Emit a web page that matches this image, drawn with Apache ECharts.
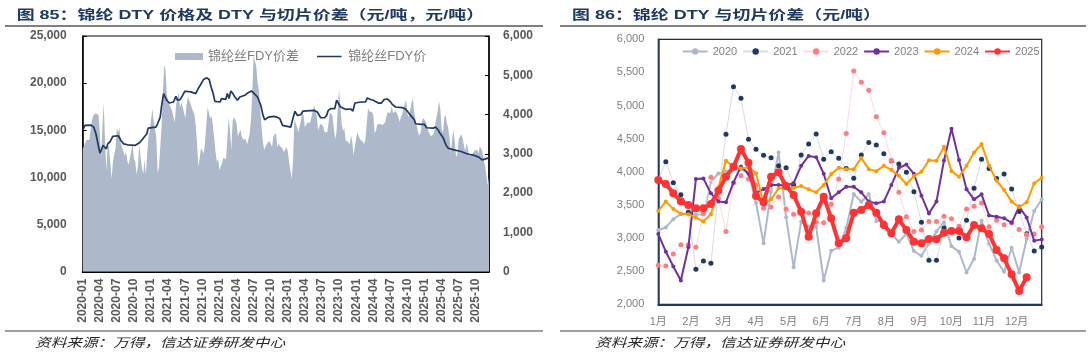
<!DOCTYPE html>
<html><head><meta charset="utf-8">
<script src="https://cdn.jsdelivr.net/npm/echarts@6/dist/echarts.min.js"></script>
<style>html,body{margin:0;padding:0;background:#fff;}#c{width:1088px;height:357px;}</style>
</head><body><div id="c"></div>
<script>
// ---------- DATA ----------
const years = ['2020', '2021', '2022', '2023', '2024', '2025'];
const monthLabels86 = ['1月','2月','3月','4月','5月','6月','7月','8月','9月','10月','11月','12月'];
// weekly DTY - chip spread (元/吨)
const spread2020 = [3121,3160,3285,3360,3370,3355,3355,3850,3975,4000,4035,4040,3980,3532,2920,3700,4290,3315,2560,3245,3170,3170,2360,2810,2855,3150,3665,3547,3665,3257,3250,3060,2945,3060,2805,2732,2915,3100,3240,2875,2795,2480,2684,3263,2915,2660,2490,2853,2480,2986,3408,3582];
const spread2021 = [3880,4150,3836,3655,3388,2528,2654,2618,3700,4565,5285,5110,4490,4340,4248,4213,4092,4062,3800,4253,4419,4570,4188,4304,4203,4050,3901,4253,4444,4404,4274,4163,4118,3992,3700,3237,2665,2665,3150,3100,3000,3270,3750,4188,4050,3900,3968,3740,3400,3066,2805,2865];
const spread2022 = [2590,2580,2760,2900,2900,2860,3370,3916,3600,3100,3830,3940,3890,3800,3450,3470,3620,3440,3360,3390,3380,3240,3230,3510,3890,4580,5520,5350,5230,4830,4590,4170,3690,3320,3100,3120,3250,3250,3330,3290,3180,3440,3480,3530,3170,3270,3200,3230,3130,3050,3060,3170];
const spread2023 = [3060,2795,2570,2360,2860,3890,3900,3675,3550,3540,3840,4080,3970,3680,3740,3800,3800,3790,3830,4090,4240,4220,3970,3600,3690,3775,3775,3690,3550,3525,3550,3800,4060,4110,3970,3640,3370,3550,4170,4650,4180,3735,3585,3660,3340,3320,3300,3230,3475,3310,2960,2980];
const spread2024 = [3410,3550,3440,3365,3360,3310,3250,3360,3765,4165,4080,4050,4070,3980,3525,3585,3750,3750,3760,3785,3735,3690,3800,3965,4060,4040,4040,4210,4040,4010,4090,4030,3940,3815,3935,4000,4175,4165,4380,4010,3925,4090,4290,4420,4090,3865,3725,3550,3465,3540,3825,3910];
const spread2025 = [3876,3816,3675,3554,3499,3448,3448,3514,3715,3926,4077,4344,4138,3635,3539,3926,3992,3786,3650,3398,3021,3373,3625,3297,2920,2996,3383,3423,3499,3383,3197,3071,3282,3121,2945,2920,2986,2981,3081,3106,3106,3011,3197,3147,3061,2820,2694,2452,2201,2407];
// FDY price (元/吨)
const fdyDates = ['2020-01-01','2020-01-13','2020-02-15','2020-02-28','2020-03-11','2020-03-24','2020-04-02','2020-04-11','2020-04-18','2020-04-28','2020-05-06','2020-05-13','2020-05-27','2020-06-09','2020-07-09','2020-07-23','2020-08-07','2020-08-28','2020-10-06','2020-10-15','2020-10-29','2020-11-11','2020-11-25','2020-12-09','2020-12-16','2021-01-27','2021-02-05','2021-02-18','2021-02-24','2021-03-07','2021-03-14','2021-03-25','2021-04-07','2021-04-29','2021-05-12','2021-05-21','2021-06-04','2021-06-22','2021-06-29','2021-07-31','2021-08-27','2021-09-09','2021-09-20','2021-10-07','2021-10-25','2021-11-07','2021-11-16','2021-11-28','2021-12-07','2022-01-05','2022-01-12','2022-02-04','2022-02-12','2022-02-20','2022-03-01','2022-03-12','2022-03-23','2022-04-06','2022-04-18','2022-05-15','2022-06-02','2022-06-20','2022-07-04','2022-07-22','2022-08-09','2022-08-21','2022-08-30','2022-09-19','2022-10-19','2022-11-03','2022-11-19','2022-12-03','2022-12-12','2023-01-17','2023-01-31','2023-02-08','2023-02-20','2023-03-09','2023-03-22','2023-05-19','2023-06-06','2023-06-24','2023-07-15','2023-07-26','2023-08-04','2023-08-17','2023-09-08','2023-09-18','2023-09-27','2023-10-09','2023-11-05','2023-12-02','2023-12-14','2023-12-25','2024-01-29','2024-02-20','2024-02-28','2024-03-14','2024-04-01','2024-04-27','2024-05-14','2024-05-28','2024-06-15','2024-06-29','2024-07-11','2024-07-29','2024-09-04','2024-09-21','2024-10-04','2024-10-18','2024-11-05','2024-11-14','2024-12-14','2025-01-01','2025-01-12','2025-02-16','2025-02-27','2025-03-12','2025-03-22','2025-04-09','2025-04-25','2025-05-06','2025-06-05','2025-06-14','2025-07-10','2025-08-07','2025-08-30','2025-09-20','2025-10-17','2025-11-04','2025-11-22','2025-12-09'];
const fdyPrice = [15000,15520,15550,15340,14630,13390,12570,12780,13390,13560,13030,13560,13810,14350,14420,13920,13560,13460,13390,13210,13640,13920,14280,14630,15230,15340,15690,16400,17470,18890,18710,18180,17890,18000,18600,18180,18250,18890,19140,19070,18890,19420,19780,20380,20560,20380,19670,18890,18070,18000,18360,18280,18890,18360,19170,18890,18530,18180,18530,18710,18990,19170,18890,18530,17650,16580,16120,16400,16480,16400,16230,15520,15340,15340,16400,17010,16580,16650,17040,17110,16940,16330,16330,16580,17110,17290,17290,18180,18110,17470,17220,17260,17040,17890,18000,18000,18430,18290,18180,17890,17890,18250,18320,18070,17750,17470,17400,17260,16940,16580,16190,15690,15620,15620,15270,15230,15340,15060,14700,14200,13390,13100,12920,12850,12780,12570,12430,12360,12150,11860,11970,12070];

// ---------- helpers ----------
const spreads = [spread2020, spread2021, spread2022, spread2023, spread2024, spread2025];
const FONT = '"Liberation Sans", "Noto Sans CJK SC", sans-serif';
function monthIndex(d) {
  const p = d.split('-').map(Number);
  const dim = new Date(p[0], p[1], 0).getDate();
  return (p[0] - 2020) * 12 + (p[1] - 1) + (p[2] - 1) / dim;
}
function comma(v) { return String(v).replace(/\B(?=(\d{3})+(?!\d))/g, ','); }
const WEEKS = 52;
const areaData = [];
spreads.forEach((arr, yi) => arr.forEach((v, w) => areaData.push([yi * 12 + w * 12 / WEEKS, v])));
const priceData = fdyDates.map((d, i) => [monthIndex(d), fdyPrice[i]]);
const xMax85 = areaData[areaData.length - 1][0];

const styles86 = [
  { line: '#adb9ca', lw: 2, dot: '#adb9ca', size: 4 },
  { line: '#d6dce5', lw: 1, dot: '#203864', size: 5 },
  { line: '#ffd9d9', lw: 1, dot: '#ff7c80', size: 5 },
  { line: '#7030a0', lw: 2, dot: '#7030a0', size: 4 },
  { line: '#ff9900', lw: 2, dot: '#ff9900', size: 4 },
  { line: '#ff3333', lw: 4, dot: '#ff3333', size: 8 }
];
const series86 = years.map((y, i) => ({
  name: y, type: 'line', xAxisIndex: 1, yAxisIndex: 2,
  data: spreads[i].map((v, w) => [w, v]),
  symbol: 'circle', symbolSize: styles86[i].size,
  lineStyle: { color: styles86[i].line, width: styles86[i].lw },
  itemStyle: { color: styles86[i].dot },
  z: 2 + i
}));

// thin-line legend icon (tiny corner specks keep the bar thin inside the icon box)
const LINE_ICON = 'path://M0,0L0.01,0L0,0.01Z M0,3.1H28V4.9H0Z M0,8L0.01,8L0,7.99Z';

const chart = echarts.init(document.getElementById('c'), null, { renderer: 'canvas' });
chart.setOption({
  animation: false,
  backgroundColor: '#fff',
  textStyle: { fontFamily: FONT },
  grid: [
    { left: 82.7, top: 36, width: 406.3, height: 235.7, show: true, borderColor: '#000', borderWidth: 1 },
    { left: 658.3, top: 39.3, width: 383.4, height: 265, show: true, borderColor: '#1f2a44', borderWidth: 1.2 }
  ],
  xAxis: [
    { type: 'value', gridIndex: 0, min: 0, max: xMax85, interval: 3,
      axisLine: { show: true, lineStyle: { color: '#000', width: 2 } },
      axisTick: { show: true, inside: true, length: 4, lineStyle: { color: '#000' } },
      splitLine: { show: false },
      axisLabel: { rotate: 90, margin: 7, color: '#595959', fontWeight: 'bold', fontSize: 12, fontFamily: FONT,
        showMaxLabel: false,
        formatter: v => { const y = 2020 + Math.floor(v / 12); const m = Math.round(v % 12) + 1; return y + '-' + (m < 10 ? '0' + m : m); } } },
    { type: 'value', gridIndex: 1, min: 0, max: WEEKS - 1, interval: WEEKS / 12,
      axisLine: { show: true, lineStyle: { color: '#1f3864', width: 2 } },
      axisTick: { show: false }, splitLine: { show: false },
      axisLabel: { margin: 12, color: '#7f7f7f', fontSize: 11, fontFamily: FONT, showMaxLabel: false,
        formatter: v => monthLabels86[Math.round(v / (WEEKS / 12))] || '' } }
  ],
  yAxis: [
    { type: 'value', gridIndex: 0, min: 0, max: 25000, interval: 5000, position: 'left',
      axisLine: { show: true, lineStyle: { color: '#000', width: 1.5 } },
      axisTick: { show: true, inside: true, length: 4, lineStyle: { color: '#000' } },
      splitLine: { show: false },
      axisLabel: { margin: 16, color: '#595959', fontWeight: 'bold', fontSize: 12, fontFamily: FONT, formatter: v => comma(v) } },
    { type: 'value', gridIndex: 0, min: 0, max: 6000, interval: 1000, position: 'right',
      axisLine: { show: true, lineStyle: { color: '#000', width: 1.5 } },
      axisTick: { show: true, inside: true, length: 4, lineStyle: { color: '#000' } },
      splitLine: { show: false },
      axisLabel: { margin: 14, color: '#595959', fontWeight: 'bold', fontSize: 12, fontFamily: FONT } },
    { type: 'value', gridIndex: 1, min: 2000, max: 6000, interval: 500,
      axisLine: { show: true, lineStyle: { color: '#1f3864', width: 1.5 } },
      axisTick: { show: false }, splitLine: { show: false },
      axisLabel: { margin: 14, color: '#7f7f7f', fontSize: 11, fontFamily: FONT, formatter: v => comma(v) } }
  ],
  legend: [
    { left: 170, top: 45, itemWidth: 28, itemHeight: 7, itemGap: 18,
      textStyle: { color: '#808080', fontSize: 13, fontFamily: FONT },
      data: [{ name: '锦纶丝FDY价差', icon: 'rect' }, { name: '锦纶丝FDY价', icon: LINE_ICON }] },
    { left: 676.7, top: 41, itemWidth: 25, itemHeight: 8, itemGap: 5,
      textStyle: { color: '#7f7f7f', fontSize: 11, fontFamily: FONT },
      data: years }
  ],
  series: [
    { name: '锦纶丝FDY价差', type: 'line', xAxisIndex: 0, yAxisIndex: 1, data: areaData,
      symbol: 'none', lineStyle: { width: 0, color: '#adb9ca' }, itemStyle: { color: '#adb9ca' },
      areaStyle: { color: '#adb9ca', opacity: 1 }, z: 1 },
    { name: '锦纶丝FDY价', type: 'line', xAxisIndex: 0, yAxisIndex: 0, data: priceData,
      symbol: 'none', lineStyle: { width: 1.7, color: '#203864' }, itemStyle: { color: '#203864' }, z: 3 }
  ].concat(series86),
  graphic: [
    { type: 'text', x: 16.7, y: 15.5, scaleX: 1.38, style: { text: '图 85：锦纶 DTY 价格及 DTY 与切片价差（元/吨，元/吨）', font: 'bold 13px ' + FONT, fill: '#1f3864', verticalAlign: 'middle' } },
    { type: 'text', x: 572, y: 15.5, scaleX: 1.38, style: { text: '图 86：锦纶 DTY 与切片价差（元/吨）', font: 'bold 13px ' + FONT, fill: '#1f3864', verticalAlign: 'middle' } },
    { type: 'line', shape: { x1: 5, y1: 26, x2: 543, y2: 26 }, style: { stroke: '#808080', lineWidth: 2 } },
    { type: 'line', shape: { x1: 560, y1: 26, x2: 1086, y2: 26 }, style: { stroke: '#808080', lineWidth: 2 } },
    { type: 'line', shape: { x1: 5, y1: 331, x2: 543, y2: 331 }, style: { stroke: '#404040', lineWidth: 1.2 } },
    { type: 'line', shape: { x1: 560, y1: 331, x2: 1086, y2: 331 }, style: { stroke: '#404040', lineWidth: 1.2 } },
    { type: 'text', x: 35, y: 342, scaleX: 1.25, style: { text: '资料来源：万得，信达证券研发中心', font: 'italic 12.5px "Noto Sans CJK SC"', fill: '#262626', verticalAlign: 'middle' } },
    { type: 'text', x: 595, y: 342, scaleX: 1.25, style: { text: '资料来源：万得，信达证券研发中心', font: 'italic 12.5px "Noto Sans CJK SC"', fill: '#262626', verticalAlign: 'middle' } }
  ]
});
</script>
</body></html>
